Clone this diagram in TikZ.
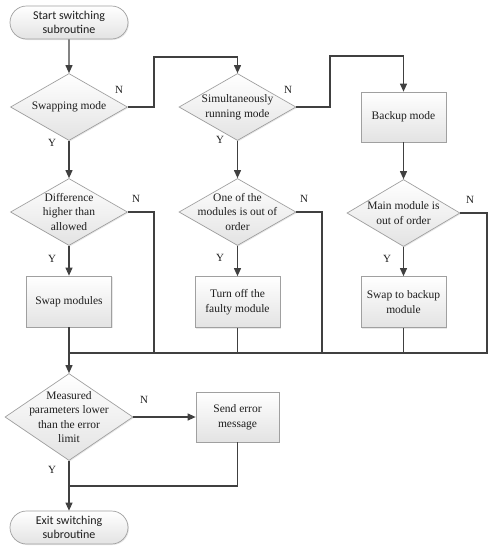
\documentclass[tikz,border=0pt]{standalone}
\usepackage{fontspec}
\setmainfont{Liberation Serif}
\newfontfamily\serifText{Liberation Serif}
\newfontfamily\termfont{Carlito}
\usetikzlibrary{shapes.geometric,shapes.misc,arrows.meta,shadows}
\definecolor{conncol}{HTML}{404040}
\definecolor{edgecol}{HTML}{A0A0A0}
\definecolor{txtcol}{HTML}{1E1E1E}
\begin{document}
\begin{tikzpicture}[x=1pt,y=-1pt,
  txt/.style={font=\serifText\fontsize{11.5}{14.5}\selectfont, text=txtcol, align=center},
  shapebase/.style={draw=edgecol, line width=0.7pt, top color=white, bottom color=black!11,
     drop shadow={opacity=0.18, shadow xshift=1pt, shadow yshift=-1pt}},
  terminal/.style={shapebase, rounded rectangle, minimum width=118pt, minimum height=33pt, inner sep=0pt,
     font=\termfont\fontsize{12}{14.5}\selectfont, text=txtcol, align=center},
  procbox/.style={shapebase, rectangle, minimum width=85pt, minimum height=51pt, inner sep=0pt, txt},
  decision/.style={shapebase, diamond, inner sep=0pt, minimum width=117pt, minimum height=67pt},
  dtext/.style={txt},
  conn/.style={draw=conncol, line width=1.1pt, -{Triangle[length=8pt,width=7pt]}},
  link/.style={draw=conncol, line width=1.1pt},
  yn/.style={font=\serifText\fontsize{11}{13}\selectfont, text=txtcol, inner sep=0pt}
]
\useasboundingbox (0,0) rectangle (496,550);

% nodes
\node[terminal] (start) at (69,22.5) {Start switching\\subroutine};
\node[decision, label={[dtext]center:Swapping mode}] (d1) at (69,107) {};
\node[decision, label={[dtext]center:Simultaneously\\running mode}] (d2) at (237.5,107) {};
\node[procbox, minimum height=50pt] (backup) at (403.5,117) {Backup mode};

\node[decision, label={[dtext]center:Difference\\higher than\\allowed}] (ddiff) at (69,212) {};
\node[decision, label={[dtext]center:One of the\\modules is out of\\order}] (done) at (237.5,212) {};
\node[decision, minimum width=113pt, label={[dtext]center:Main module is\\out of order}] (d3) at (403.5,213) {};

\node[procbox] (swap) at (69,301.5) {Swap modules};
\node[procbox] (turnoff) at (237.5,302) {Turn off the\\faulty module};
\node[procbox] (swapb) at (403.5,302) {Swap to backup\\module};

\node[decision, minimum width=128pt, minimum height=87pt, label={[dtext]center:Measured\\parameters lower\\than the error\\limit}] (d4) at (69,417) {};
\node[procbox, minimum width=83pt, minimum height=50pt] (senderr) at (237.5,417) {Send error\\message};
\node[terminal] (exit) at (69,527.5) {Exit switching\\subroutine};

% labels
\node[yn] (n1) at (119,90) {N};
\node[yn] (y1) at (52,143) {Y};
\node[yn] (n2) at (288,90) {N};
\node[yn] (y2) at (220,140) {Y};
\node[yn] (n3) at (136,199) {N};
\node[yn] (y3) at (52,259) {Y};
\node[yn] (n4) at (304,199) {N};
\node[yn] (y4) at (220,258) {Y};
\node[yn] (n5) at (470,200) {N};
\node[yn] (y5) at (387,259) {Y};
\node[yn] (n6) at (144,400) {N};
\node[yn] (y6) at (52,470) {Y};

% helper coordinates
\coordinate (j1) at (154,57);
\coordinate (j2) at (330,56);
\coordinate (busL) at (69,353);
\coordinate (busR) at (487,353);
\coordinate (bus1) at (154,353);
\coordinate (bus2) at (322,353);
\coordinate (j3) at (69,486);

% connectors
\draw[conn] (start) -- (d1);
\draw[conn] (d1.east) -| (j1) -| (d2.north);
\draw[conn] (d2.east) -| (j2) -| (backup.north);
\draw[conn] (backup) -- (d3);
\draw[conn] (d1) -- (ddiff);
\draw[conn] (d2) -- (done);
\draw[conn] (ddiff) -- (swap);
\draw[conn] (done) -- (turnoff);
\draw[conn] (d3) -- (swapb);

\draw[link] (ddiff.east) -| (bus1);
\draw[link] (done.east) -| (bus2);
\draw[link] (d3.east) -| (busR) -- (busL);
\draw[link] (swap.south) -- (swap.south |- busL);
\draw[link] (turnoff.south) -- (turnoff.south |- busL);
\draw[link] (swapb.south) -- (swapb.south |- busL);

\draw[conn] (busL) -- (d4.north);
\draw[conn] (d4.east) -- (senderr.west);
\draw[link] (senderr.south) |- (j3);
\draw[conn] (d4.south) -- (exit.north);
\end{tikzpicture}
\end{document}
